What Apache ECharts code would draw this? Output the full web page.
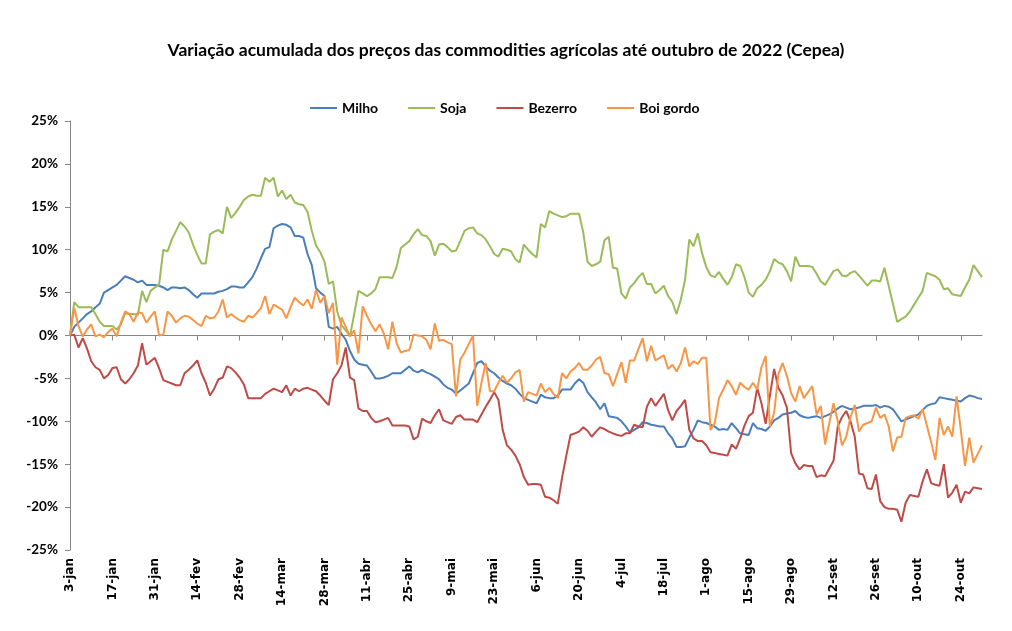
<!DOCTYPE html>
<html><head><meta charset="utf-8">
<script src="https://cdn.jsdelivr.net/npm/echarts@6/dist/echarts.min.js"></script>
<style>html,body{margin:0;padding:0;background:#fff}#c{width:1012px;height:631px}</style>
</head><body><div id="c"></div>
<script>
// Tick labels / category building blocks
const monthNames = ['jan','fev','mar','abr','mai','jun','jul','ago','set','out','nov','dez'];
const firstDay = [2022, 0, 3]; // 3-jan-2022, daily (business days)
const yTicks = [-25,-20,-15,-10,-5,0,5,10,15,20,25];

// Series values (% accumulated variation)
const milho = [
 0.0,1.0,1.5,2.0,2.5,2.8,3.3,3.7,5.0,5.3,
 5.6,5.9,6.4,6.9,6.7,6.5,6.2,6.4,5.9,5.9,
 5.9,5.8,5.6,5.3,5.6,5.6,5.5,5.6,5.3,4.8,
 4.4,4.9,4.9,4.9,4.9,5.1,5.2,5.4,5.7,5.7,
 5.6,5.6,6.2,6.8,7.8,9.0,10.1,10.3,12.5,12.8,
 13.0,12.9,12.6,11.6,11.6,11.4,9.5,8.2,5.5,5.0,
 4.6,1.0,0.8,1.0,0.2,-0.5,-1.8,-2.8,-3.3,-3.4,
 -3.5,-4.2,-5.0,-5.0,-4.9,-4.7,-4.4,-4.4,-4.4,-4.0,
 -3.6,-4.1,-4.3,-4.0,-4.3,-4.5,-4.8,-5.1,-5.7,-6.1,
 -6.3,-6.8,-6.4,-6.0,-5.6,-4.4,-3.2,-3.0,-3.6,-4.1,
 -4.4,-4.9,-5.3,-5.6,-5.8,-6.2,-6.8,-7.3,-7.5,-7.7,
 -7.9,-6.9,-7.2,-7.3,-7.3,-7.0,-6.3,-6.3,-6.3,-5.6,
 -5.1,-5.5,-6.6,-7.2,-7.8,-8.6,-7.9,-9.4,-9.5,-9.6,
 -10.0,-10.6,-11.3,-11.0,-10.7,-10.1,-10.2,-10.4,-10.5,-10.6,
 -10.6,-11.4,-12.0,-13.0,-13.0,-12.9,-11.9,-11.0,-9.9,-10.1,
 -10.2,-10.4,-10.6,-11.0,-10.9,-11.0,-10.2,-10.8,-11.4,-11.5,
 -11.6,-10.2,-10.8,-10.9,-11.1,-10.6,-9.9,-9.6,-9.2,-9.1,
 -9.0,-8.8,-9.3,-9.5,-9.6,-9.5,-9.4,-9.6,-9.4,-9.2,
 -8.9,-8.5,-8.2,-8.4,-8.6,-8.5,-8.4,-8.2,-8.2,-8.2,
 -8.1,-8.4,-8.2,-8.3,-8.6,-9.3,-10.0,-9.8,-9.6,-9.4,
 -9.2,-8.7,-8.2,-8.0,-7.9,-7.2,-7.3,-7.4,-7.5,-7.6,
 -7.7,-7.3,-7.0,-7.1,-7.3,-7.4
];
const soja = [
 0.0,3.9,3.3,3.3,3.3,3.3,2.5,1.6,1.1,1.1,
 1.1,0.7,1.3,2.6,2.5,2.5,2.4,5.2,3.9,5.2,
 5.6,5.9,10.0,9.8,11.2,12.2,13.2,12.7,12.0,10.6,
 9.4,8.4,8.4,11.8,12.1,12.3,11.9,15.0,13.7,14.3,
 15.0,15.8,16.2,16.4,16.3,16.3,18.4,17.9,18.4,16.2,
 16.9,15.9,16.4,15.5,15.3,15.2,14.4,12.2,10.5,9.7,
 8.6,6.0,6.3,2.8,1.2,0.6,-0.1,2.5,5.2,4.9,
 4.6,4.9,5.4,6.8,6.8,6.8,6.7,8.0,10.2,10.6,
 11.0,11.8,12.4,11.7,11.6,11.0,9.3,10.6,10.7,10.3,
 9.8,9.9,11.0,12.2,12.5,12.6,11.9,11.7,11.2,10.4,
 9.5,9.2,10.1,10.0,9.8,8.9,8.5,10.6,10.0,9.5,
 9.1,13.0,12.6,14.5,14.2,14.0,13.8,13.9,14.2,14.2,
 14.2,12.0,8.6,8.1,8.3,8.6,11.1,11.5,7.9,7.8,
 4.9,4.3,5.6,6.1,6.8,7.3,6.0,6.0,4.9,5.3,
 5.8,4.6,3.9,2.5,4.2,6.5,11.2,10.4,11.9,9.6,
 8.0,7.0,6.8,7.4,6.6,5.9,6.8,8.3,8.1,6.8,
 5.0,4.5,5.5,5.9,6.5,7.5,8.9,8.5,8.3,7.5,
 6.3,9.2,8.1,8.1,8.1,8.0,7.2,6.3,5.9,6.7,
 7.5,7.7,7.0,6.9,7.3,7.5,7.0,6.4,5.8,6.4,
 6.4,6.3,7.9,5.8,3.7,1.6,1.9,2.2,2.8,3.6,
 4.4,5.2,7.3,7.1,6.9,6.5,5.4,5.5,4.8,4.7,
 4.6,5.6,6.5,8.2,7.5,6.8
];
const bezerro = [
 0.0,0.1,-1.4,-0.3,-1.5,-3.0,-3.7,-4.0,-5.0,-4.6,
 -3.8,-3.7,-5.1,-5.6,-5.1,-4.4,-3.5,-0.9,-3.4,-3.0,
 -2.6,-3.8,-5.2,-5.4,-5.6,-5.8,-5.8,-4.4,-4.0,-3.5,
 -2.9,-4.4,-5.5,-7.0,-6.2,-5.1,-4.9,-3.6,-3.8,-4.3,
 -4.9,-5.7,-7.3,-7.3,-7.3,-7.3,-6.8,-6.5,-6.2,-6.4,
 -6.6,-5.8,-7.0,-6.2,-6.5,-6.2,-6.1,-6.3,-6.5,-7.0,
 -7.6,-8.1,-5.1,-4.4,-3.5,-1.4,-4.9,-5.2,-8.5,-8.8,
 -8.8,-9.6,-10.1,-10.0,-9.8,-9.6,-10.5,-10.5,-10.5,-10.5,
 -10.6,-12.1,-11.8,-9.7,-10.0,-10.2,-9.3,-8.6,-9.9,-10.1,
 -10.3,-9.5,-9.3,-9.8,-9.8,-9.8,-10.1,-9.2,-8.3,-7.5,
 -6.6,-7.5,-11.0,-12.8,-13.3,-14.0,-15.0,-16.5,-17.4,-17.3,
 -17.3,-17.4,-18.8,-18.9,-19.2,-19.6,-16.6,-14.0,-11.6,-11.4,
 -11.2,-10.7,-11.1,-11.8,-11.2,-10.7,-10.9,-11.2,-11.4,-11.6,
 -11.7,-11.4,-11.4,-10.4,-10.6,-10.7,-8.3,-7.3,-8.2,-7.5,
 -6.8,-8.7,-9.9,-8.8,-8.2,-7.5,-11.0,-12.0,-12.3,-12.3,
 -12.8,-13.6,-13.7,-13.8,-13.9,-14.0,-12.7,-13.2,-12.0,-10.5,
 -9.4,-9.0,-6.1,-7.9,-10.3,-7.0,-3.9,-6.1,-7.0,-8.4,
 -13.7,-14.9,-15.6,-15.1,-15.2,-15.2,-16.5,-16.3,-16.4,-15.5,
 -14.6,-10.6,-9.5,-8.8,-10.0,-11.8,-16.1,-16.2,-17.8,-17.9,
 -16.2,-19.3,-20.0,-20.2,-20.2,-20.3,-21.7,-19.5,-18.6,-18.7,
 -18.8,-17.0,-15.6,-17.2,-17.4,-17.5,-15.0,-18.9,-18.3,-17.4,
 -19.5,-18.2,-18.4,-17.7,-17.8,-17.9
];
const boiGordo = [
 0.0,3.2,1.1,-0.1,0.7,1.3,-0.1,0.1,-0.2,0.4,
 0.8,-0.1,1.5,2.8,2.5,1.6,2.7,2.6,1.5,2.2,
 2.8,0.0,0.1,2.8,2.3,1.5,2.0,2.3,2.2,1.8,
 1.4,1.1,2.3,2.0,2.1,2.8,4.2,2.1,2.5,2.1,
 1.8,1.6,2.3,2.1,2.6,3.2,4.6,2.5,3.6,3.3,
 3.0,2.0,3.3,4.4,3.9,3.5,4.2,3.1,5.3,3.8,
 4.6,2.6,3.8,-3.4,2.1,1.0,-0.1,0.6,-2.1,3.4,
 2.3,1.3,0.5,1.3,0.2,-1.6,1.6,-0.9,-2.0,-1.8,
 -1.7,0.1,0.0,-0.1,-0.5,-1.6,1.4,-0.6,-0.5,-0.8,
 -1.0,-7.1,-2.8,-2.0,-1.0,0.0,-8.2,-5.5,-3.2,-6.5,
 -6.5,-5.5,-4.7,-5.5,-5.0,-4.3,-4.0,-7.7,-6.6,-6.8,
 -7.0,-5.6,-6.6,-6.1,-6.8,-7.3,-4.4,-5.0,-4.2,-3.8,
 -3.2,-4.0,-4.0,-3.5,-2.8,-2.5,-4.4,-4.5,-5.9,-4.5,
 -3.1,-5.5,-2.9,-2.9,-1.6,-0.3,-3.0,-1.2,-2.9,-2.6,
 -2.3,-3.9,-3.4,-4.2,-3.2,-1.4,-3.6,-3.0,-3.3,-2.6,
 -2.6,-11.0,-10.2,-7.3,-6.3,-5.2,-5.9,-6.9,-5.5,-6.0,
 -6.3,-5.5,-6.3,-3.7,-2.4,-10.6,-9.0,-4.5,-3.2,-4.7,
 -6.7,-7.7,-5.9,-7.3,-6.6,-5.9,-9.2,-8.2,-12.7,-10.2,
 -7.9,-10.0,-12.8,-11.8,-9.5,-8.1,-11.2,-10.4,-10.2,-10.0,
 -8.4,-9.6,-9.2,-10.6,-13.5,-11.9,-11.8,-9.6,-9.4,-9.3,
 -9.7,-8.6,-10.5,-12.4,-14.5,-9.6,-11.6,-10.6,-11.8,-7.1,
 -11.0,-15.2,-11.9,-14.8,-13.8,-12.8
];

// Build business-day categories (labels like "3-jan")
const categories = [];
(function(){
  let t = Date.UTC(firstDay[0], firstDay[1], firstDay[2]);
  while (categories.length < milho.length) {
    const d = new Date(t);
    const wd = d.getUTCDay();
    if (wd !== 0 && wd !== 6) categories.push(d.getUTCDate() + '-' + monthNames[d.getUTCMonth()]);
    t += 86400000;
  }
})();

const chart = echarts.init(document.getElementById('c'), null, {renderer:'canvas'});
const axisGrey = '#868686';
function line(name, data, color){
  return {name, type:'line', data, symbol:'none', showSymbol:false,
    lineStyle:{width:2, color}, itemStyle:{color}, emphasis:{disabled:true}, animation:false};
}
chart.setOption({
  backgroundColor:'#fff',
  animation:false,
  title:{
    text:'Variação acumulada dos preços das commodities agrícolas até outubro de 2022 (Cepea)',
    left:'center', top:36,
    textStyle:{fontFamily:'Lato', fontWeight:'bold', fontSize:17.5, color:'#000'}
  },
  legend:{
    top:96, left:305, itemWidth:27, itemHeight:12, itemGap:30,
    icon:'path://M0,5 L27,5 L27,7 L0,7 Z',
    textStyle:{fontFamily:'Lato', fontWeight:'bold', fontSize:14, color:'#000'},
    data:['Milho','Soja','Bezerro','Boi gordo']
  },
  grid:{left:70, right:30, top:121, bottom:81, containLabel:false},
  xAxis:[
    {type:'category', data:categories, boundaryGap:false, position:'bottom',
     axisLine:{show:false, onZero:false}, axisTick:{show:false},
     axisLabel:{interval:9, rotate:90, margin:8, fontFamily:'DejaVu Sans', fontWeight:'bold', fontSize:12, color:'#000'}},
    {type:'category', data:categories, boundaryGap:false, position:'bottom',
     axisLine:{show:true, onZero:true, lineStyle:{color:axisGrey, width:1}},
     axisTick:{show:true, interval:9, length:5, lineStyle:{color:axisGrey}},
     axisLabel:{show:false}}
  ],
  yAxis:{
    type:'value', min:yTicks[0], max:yTicks[yTicks.length-1], interval:5,
    axisLine:{show:true, onZero:false, lineStyle:{color:axisGrey}},
    axisTick:{show:true, length:5, lineStyle:{color:axisGrey}},
    splitLine:{show:false},
    axisLabel:{formatter:'{value}%', margin:12, fontFamily:'Lato', fontWeight:'bold', fontSize:13.5, color:'#000'}
  },
  series:[
    line('Milho', milho, '#4A7EBB'),
    line('Soja', soja, '#9BBB59'),
    line('Bezerro', bezerro, '#BE4B48'),
    line('Boi gordo', boiGordo, '#F79646')
  ]
});
</script>
</body></html>
